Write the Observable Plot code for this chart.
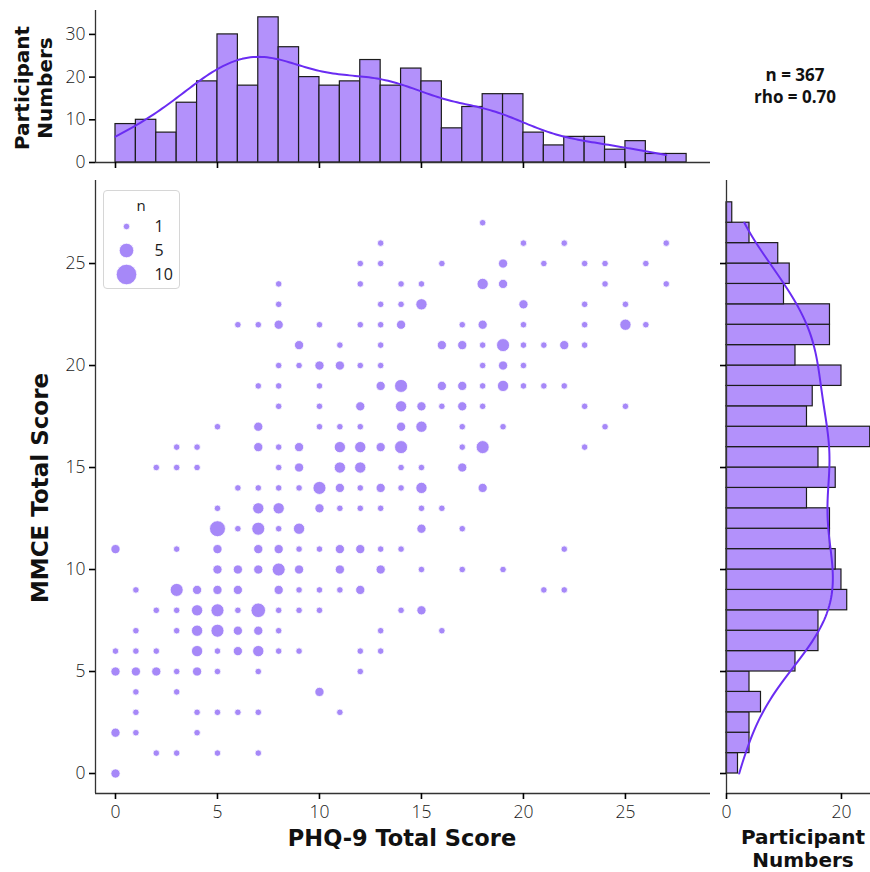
<!DOCTYPE html>
<html><head><meta charset="utf-8">
<script src="https://cdn.jsdelivr.net/npm/d3@7"></script>
<script src="https://cdn.jsdelivr.net/npm/@observablehq/plot@0.6"></script>
<style>
body{margin:0;background:#fff;}
#wrap{position:relative;width:870px;height:872px;overflow:hidden;font-family:"Open Sans",sans-serif;color:#111;}
.abs{position:absolute;}
.abs svg{display:block;overflow:visible;}
.t{position:absolute;font-weight:700;white-space:nowrap;transform:translate(-50%,-50%);text-align:center;}
.rot{transform:translate(-50%,-50%) rotate(-90deg);}
.dv{font-family:"DejaVu Sans",sans-serif;}
#legend{position:absolute;left:103px;top:190px;width:75px;height:97px;border:1px solid #d6d6d6;border-radius:4px;background:#fff;}
</style></head><body><div id="wrap"></div>
<script>
// ---------- data ----------
const scoreBins = d3.range(0, 28);                       // integer score bins (width 1)
const phqCounts = [9,10,7,14,19,30,18,34,27,20,18,19,24,18,22,19,8,13,16,16,7,4,6,6,3,5,2,2];
const mmceCounts = [2,4,4,6,4,12,16,16,21,20,19,18,18,14,19,16,25,14,15,20,12,18,18,10,11,9,4,1];
const xTicks = [0,5,10,15,20,25];
const yTicks = [0,5,10,15,20,25];
const topCountTicks = [0,10,20,30];
const rightCountTicks = [0,20];
const legendSizes = [1,5,10];
const statsText = ["n = 367","rho = 0.70"];

// scatter (PHQ-9, MMCE, number of participants at that pair)
const phqScore = [
 18,
 13,20,22,27,
 12,13,16,19,21,23,24,26,
 8,12,14,15,18,19,24,27,
 8,13,14,15,20,23,25,
 6,7,8,10,12,13,14,17,18,20,23,25,26,
 9,11,13,16,17,18,19,20,21,22,23,
 8,9,10,11,12,13,18,19,20,
 7,8,10,13,14,16,17,18,19,20,21,22,
 8,10,12,14,15,16,17,18,23,25,
 5,7,10,11,12,14,15,17,19,24,
 3,4,7,8,9,11,12,13,14,17,18,23,
 2,3,4,8,9,11,12,14,15,17,
 6,7,8,9,10,11,12,13,14,15,18,
 5,7,8,10,11,12,13,15,16,
 5,6,7,8,9,15,17,
 0,3,5,7,8,9,10,11,12,13,14,22,
 5,6,7,8,9,11,13,15,17,19,
 1,3,4,5,6,8,9,10,11,12,21,22,
 2,3,4,5,6,7,8,9,10,14,15,
 1,3,4,5,6,7,8,13,16,
 0,1,2,4,5,6,7,8,9,12,13,
 0,1,2,3,4,5,7,12,
 1,3,10,
 1,4,5,6,7,11,
 0,1,4,
 2,3,5,7,
 0
];
const mmceScore = [
 27,
 26,26,26,26,
 25,25,25,25,25,25,25,25,
 24,24,24,24,24,24,24,24,
 23,23,23,23,23,23,23,
 22,22,22,22,22,22,22,22,22,22,22,22,22,
 21,21,21,21,21,21,21,21,21,21,21,
 20,20,20,20,20,20,20,20,20,
 19,19,19,19,19,19,19,19,19,19,19,19,
 18,18,18,18,18,18,18,18,18,18,
 17,17,17,17,17,17,17,17,17,17,
 16,16,16,16,16,16,16,16,16,16,16,16,
 15,15,15,15,15,15,15,15,15,15,
 14,14,14,14,14,14,14,14,14,14,14,
 13,13,13,13,13,13,13,13,13,
 12,12,12,12,12,12,12,
 11,11,11,11,11,11,11,11,11,11,11,11,
 10,10,10,10,10,10,10,10,10,10,
 9,9,9,9,9,9,9,9,9,9,9,9,
 8,8,8,8,8,8,8,8,8,8,8,
 7,7,7,7,7,7,7,7,7,
 6,6,6,6,6,6,6,6,6,6,6,
 5,5,5,5,5,5,5,5,
 4,4,4,
 3,3,3,3,3,3,
 2,2,2,
 1,1,1,1,
 0
];
const nCount = [
 1,
 1,1,1,1,
 1,1,1,2,1,1,1,1,
 1,1,1,1,3,2,1,1,
 1,1,1,3,2,1,1,
 1,1,2,1,1,1,2,1,2,1,1,3,1,
 2,1,1,2,2,1,4,1,1,2,1,
 1,1,2,2,1,1,1,2,1,
 1,1,1,2,4,2,2,1,3,1,1,1,
 1,1,2,3,2,1,2,1,1,1,
 1,2,1,1,1,2,3,1,1,1,
 1,1,2,1,2,3,3,2,4,1,4,1,
 1,1,1,1,2,3,3,1,1,2,
 1,1,1,1,4,2,1,2,1,3,2,
 1,3,3,2,1,1,1,1,1,
 6,1,4,1,3,2,1,
 2,1,2,2,2,1,1,2,2,1,1,1,
 2,2,2,4,2,2,2,1,1,1,
 1,4,2,2,2,2,1,1,1,2,1,1,
 1,1,3,4,1,5,1,1,1,1,2,
 1,1,3,4,2,2,1,1,1,
 1,1,1,3,1,2,3,1,1,1,1,
 2,2,2,1,2,1,1,1,
 1,1,2,
 1,1,1,1,1,1,
 2,1,1,
 1,1,1,1,
 2
];

// ---------- styling constants ----------
const barFill = "#b391fb", barStroke = "#1c1c1c", lineColor = "#6a2cf2", dotFill = "#a688f8";
const xDomain = [-0.98, 29.17], yDomain = [-0.98, 29.07];
const rScale = {type: "sqrt", domain: [0, 10], range: [0, 10.3]};
const tickFont = {fontSize: 17.5, fontWeight: 300};

const scatter = phqScore.map((x, i) => ({x, y: mmceScore[i], n: nCount[i]}));
const topBins = scoreBins.map((b, i) => ({x1: b, x2: b + 1, c: phqCounts[i]}));
const rightBins = scoreBins.map((b, i) => ({y1: b, y2: b + 1, c: mmceCounts[i]}));

function kde(values, counts) {
  const n = d3.sum(counts);
  const mean = d3.sum(values, (v, i) => v * counts[i]) / n;
  const vr = d3.sum(values, (v, i) => counts[i] * (v - mean) ** 2) / (n - 1);
  const h = Math.sqrt(vr) * Math.pow(n, -0.2);
  const used = values.filter((v, i) => counts[i] > 0);
  const lo = d3.min(used), hi = d3.max(used);
  return d3.range(201).map(k => {
    const t = lo + (hi - lo) * k / 200;
    const c = d3.sum(values, (v, i) => counts[i] * Math.exp(-0.5 * ((t - v) / h) ** 2)) / (h * Math.sqrt(2 * Math.PI));
    return {t, c};
  });
}
const topKde = kde(scoreBins, phqCounts);
const rightKde = kde(scoreBins, mmceCounts);

const wrap = document.getElementById("wrap");
function place(node, left, top) {
  const d = document.createElement("div");
  d.className = "abs"; d.style.left = left + "px"; d.style.top = top + "px";
  d.appendChild(node); wrap.appendChild(d); return d;
}
function label(lines, cx, cy, size, lh, cls) {
  const d = document.createElement("div");
  d.className = "t " + (cls || "");
  d.style.left = cx + "px"; d.style.top = cy + "px"; d.style.fontSize = size + "px";
  d.style.lineHeight = lh + "px";
  lines.forEach((s, i) => { if (i) d.appendChild(document.createElement("br")); d.appendChild(document.createTextNode(s)); });
  wrap.appendChild(d);
}
const common = {style: {fontFamily: "'Open Sans', sans-serif", color: "#1a1a1a", background: "transparent", overflow: "visible"}};

// ---------- top histogram ----------
place(Plot.plot({
  ...common, width: 720, height: 170,
  marginLeft: 95, marginRight: 10, marginTop: 10, marginBottom: 8,
  x: {domain: xDomain}, y: {domain: [0, 35.6]},
  marks: [
    Plot.rectY(topBins, {x1: "x1", x2: "x2", y: "c", fill: barFill, stroke: barStroke, strokeWidth: 1.2}),
    Plot.line(topKde, {x: "t", y: "c", stroke: lineColor, strokeWidth: 2}),
    Plot.ruleY([0], {stroke: "#333", strokeWidth: 1.3}),
    Plot.ruleX([xDomain[0]], {stroke: "#333", strokeWidth: 1.3}),
    Plot.axisX({ticks: xTicks, tickSize: 6, tickFormat: () => "", label: null, stroke: "#000", strokeWidth: 1.6}),
    Plot.axisY({ticks: topCountTicks, tickSize: 6, tickPadding: 4, label: null, stroke: "#000", strokeWidth: 1.6, ...tickFont})
  ]
}), 0, 0);

// ---------- main scatter ----------
place(Plot.plot({
  ...common, width: 720, height: 702,
  marginLeft: 95, marginRight: 10, marginTop: 10, marginBottom: 79,
  x: {domain: xDomain}, y: {domain: yDomain}, r: rScale,
  marks: [
    Plot.ruleY([yDomain[0]], {stroke: "#333", strokeWidth: 1.3}),
    Plot.ruleX([xDomain[0]], {stroke: "#333", strokeWidth: 1.3}),
    Plot.dot(scatter, {x: "x", y: "y", r: "n", fill: dotFill, stroke: "#fff", strokeWidth: 0.8}),
    Plot.axisX({ticks: xTicks, tickSize: 6, tickPadding: 6, label: null, stroke: "#000", strokeWidth: 1.6, ...tickFont}),
    Plot.axisY({ticks: yTicks, tickSize: 6, tickPadding: 4, label: null, stroke: "#000", strokeWidth: 1.6, ...tickFont})
  ]
}), 0, 170);

// ---------- right histogram ----------
place(Plot.plot({
  ...common, width: 160, height: 702,
  marginLeft: 16, marginRight: 0, marginTop: 10, marginBottom: 79,
  x: {domain: [0, 25.05]}, y: {domain: yDomain},
  marks: [
    Plot.rectX(rightBins, {y1: "y1", y2: "y2", x: "c", fill: barFill, stroke: barStroke, strokeWidth: 1.2}),
    Plot.line(rightKde, {x: "c", y: "t", stroke: lineColor, strokeWidth: 2}),
    Plot.ruleY([yDomain[0]], {stroke: "#333", strokeWidth: 1.3}),
    Plot.ruleX([0], {stroke: "#333", strokeWidth: 1.3}),
    Plot.axisX({ticks: rightCountTicks, tickSize: 6, tickPadding: 6, label: null, stroke: "#000", strokeWidth: 1.6, ...tickFont}),
    Plot.axisY({ticks: yTicks, tickSize: 6, tickFormat: () => "", label: null, stroke: "#000", strokeWidth: 1.6})
  ]
}), 710, 170);

// ---------- size legend ----------
const leg = document.createElement("div"); leg.id = "legend"; wrap.appendChild(leg);
leg.appendChild(Plot.plot({
  ...common, width: 75, height: 97, margin: 0,
  y: {type: "point", domain: legendSizes.map(String), range: [35, 83], padding: 0, axis: null},
  r: rScale,
  marks: [
    Plot.text(["n"], {frameAnchor: "top", dy: 9, dx: -1, fontSize: 15, fill: "#1a1a1a"}),
    Plot.dot(legendSizes, {y: d => String(d), r: d => d, frameAnchor: "left", dx: 22, fill: dotFill, stroke: "#fff", strokeWidth: 0.8}),
    Plot.text(legendSizes, {y: d => String(d), text: d => String(d), frameAnchor: "left", dx: 50, textAnchor: "start", fontSize: 16, fill: "#1a1a1a"})
  ]
}));

// ---------- titles ----------
label(["PHQ-9 Total Score"], 402, 838, 22.5, 26, "dv");
label(["MMCE Total Score"], 40, 488, 23, 26, "dv rot");
label(["Participant", "Numbers"], 34, 88, 20, 23, "dv rot");
label(["Participant", "Numbers"], 803, 849, 20, 23, "dv");
label(statsText, 795, 86, 17, 22);
</script></body></html>
